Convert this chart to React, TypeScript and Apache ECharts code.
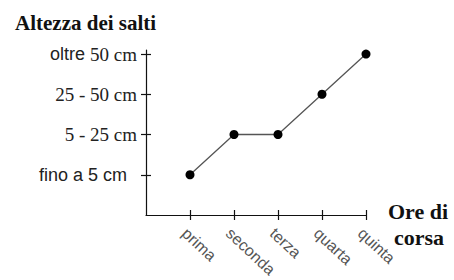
import React, { useEffect, useRef } from "react";
import * as echarts from "echarts";

const categories = ["prima", "seconda", "terza", "quarta", "quinta"];
const levelLabels = ["{s|fino a 5 cm}{p|}", "{t|5 - 25 cm}", "{t|25 - 50 cm}", "{s|oltre }{t|50 cm}"];
const levelValues = [1, 2, 3, 4];
const jumpLevels = [1, 2, 2, 3, 4];
const xPositions = [1, 2, 3, 4, 5];

export default function App() {
  const ref = useRef<HTMLDivElement>(null);
  useEffect(() => {
    if (!ref.current) return;
    const chart = echarts.init(ref.current, undefined, { renderer: "svg" });
    const yCommon = {
      type: "value" as const,
      min: 0,
      max: 4.1,
      position: "left" as const,
      splitLine: { show: false },
    };
    const xCommon = {
      type: "value" as const,
      min: 0,
      max: 5,
      position: "bottom" as const,
      splitLine: { show: false },
    };
    chart.setOption({
      animation: false,
      title: {
        text: "Altezza dei salti",
        left: 10,
        top: 7,
        textStyle: { fontFamily: "Liberation Serif", fontWeight: "bold", fontSize: 21, color: "#111" },
      },
      grid: { left: 146, right: 88, top: 50, bottom: 62, containLabel: false },
      xAxis: [
        {
          ...xCommon,
          axisLine: { show: true, lineStyle: { color: "#111", width: 1.2 } },
          axisTick: { show: true, length: 5, customValues: xPositions, lineStyle: { color: "#111", width: 1.2 } },
          axisLabel: {
            show: true,
            customValues: xPositions,
            rotate: -43,
            margin: 10,
            verticalAlign: "top",
            color: "#555",
            fontFamily: "Liberation Sans",
            fontSize: 16,
            formatter: (v: number) => categories[v - 1] ?? "",
          },
        },
        {
          ...xCommon,
          axisLine: { show: false },
          axisTick: { show: true, inside: true, length: 5, customValues: xPositions, lineStyle: { color: "#111", width: 1.2 } },
          axisLabel: { show: false },
        },
      ],
      yAxis: [
        {
          ...yCommon,
          axisLine: { show: true, lineStyle: { color: "#111", width: 1.2 } },
          axisTick: { show: true, length: 5, customValues: levelValues, lineStyle: { color: "#111", width: 1.2 } },
          axisLabel: {
            show: true,
            customValues: levelValues,
            margin: 9,
            formatter: (v: number) => levelLabels[v - 1] ?? "",
            rich: {
              s: { fontFamily: "Liberation Sans", fontSize: 18, color: "#222" },
              t: { fontFamily: "Liberation Serif", fontSize: 19, color: "#222" },
              p: { width: 10, fontSize: 18 },
            },
          },
        },
        {
          ...yCommon,
          axisLine: { show: false },
          axisTick: { show: true, inside: true, length: 5, customValues: levelValues, lineStyle: { color: "#111", width: 1.2 } },
          axisLabel: { show: false },
        },
      ],
      graphic: [
        {
          type: "text",
          x: 388,
          y: 211,
          style: { text: "Ore di", font: "bold 22px 'Liberation Serif'", fill: "#111", verticalAlign: "middle" },
        },
        {
          type: "text",
          x: 394,
          y: 237,
          style: { text: "corsa", font: "bold 22px 'Liberation Serif'", fill: "#111", verticalAlign: "middle" },
        },
      ],
      series: [
        {
          type: "line",
          xAxisIndex: 0,
          yAxisIndex: 0,
          data: xPositions.map((x, i) => [x, jumpLevels[i]]),
          symbol: "circle",
          symbolSize: 9,
          itemStyle: { color: "#000" },
          lineStyle: { color: "#555", width: 1.3 },
        },
      ],
    });
    return () => chart.dispose();
  }, []);
  return <div ref={ref} style={{ width: 454, height: 280, position: "absolute", left: 0, top: 0 }} />;
}
